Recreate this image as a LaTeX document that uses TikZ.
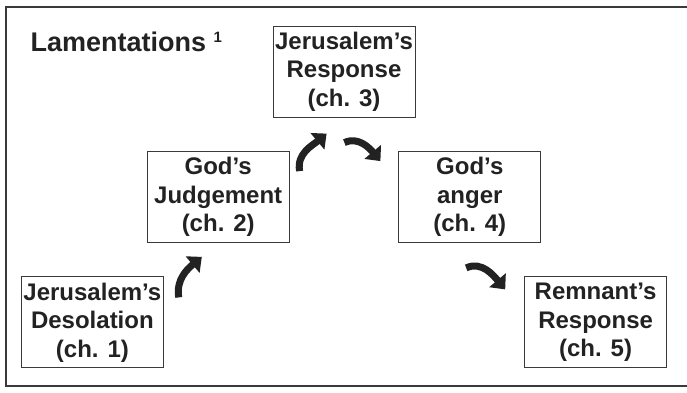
\documentclass[tikz,border=0pt]{standalone}
\usepackage{fontspec}
\setmainfont{Liberation Sans}
\usetikzlibrary{positioning,arrows.meta}

\definecolor{ink}{HTML}{222222}
\definecolor{edge}{HTML}{3A3A3A}

\tikzset{
  chapter/.style={draw=edge, line width=0.8pt, text=ink, align=center,
    minimum width=142pt, minimum height=91pt, inner sep=0pt,
    font=\bfseries\fontsize{24}{28.5}\selectfont},
  turn/.style={ink, line width=7pt,
    -{Triangle[length=12pt,width=21pt]}},
  frame/.style={draw=edge, line width=1.5pt}
}

\begin{document}
\begin{tikzpicture}[x=1pt,y=-1pt]
  \useasboundingbox (0,0) rectangle (687,392);
  \clip (0,0) rectangle (687,392);
  \draw[frame] (6,7) rectangle (700,386);

  \node (title) [anchor=base west, text=ink,
    font=\bfseries\fontsize{27}{32}\selectfont] at (27,51)
    {Lamentations \raisebox{9pt}{\fontsize{15}{15}\selectfont 1}};

  \matrix [column sep=-17pt, row sep=33.5pt] at (344,197) {
    & & \node (b3) [chapter] {Jerusalem's\\Response\\(ch. 3)}; & & \\
    & \node (b2) [chapter] {God's\\Judgement\\(ch. 2)}; & &
    \node (b4) [chapter] {God's\\anger\\(ch. 4)}; & \\
    \node (b1) [chapter] {Jerusalem's\\Desolation\\(ch. 1)}; & & & &
    \node (b5) [chapter] {Remnant's\\Response\\(ch. 5)}; \\
  };

  % ends of the curved arrows
  \coordinate (t1) at ([xshift=15pt,yshift=-21pt]b1.north east);
  \coordinate (h1) at ([xshift=55pt,yshift=-14pt]b2.south west);
  \coordinate (t2) at ([xshift=10pt,yshift=-20pt]b2.north east);
  \coordinate (h2) at ([xshift=54pt,yshift=-16pt]b3.south west);
  \coordinate (t3) at ([xshift=-71pt,yshift=-25pt]b3.south east);
  \coordinate (h3) at ([xshift=-18pt,yshift=-10pt]b4.north west);
  \coordinate (t4) at ([xshift=-75pt,yshift=-25pt]b4.south east);
  \coordinate (h4) at ([xshift=-19pt,yshift=-13pt]b5.north west);

  \draw[turn] (t1) to[out=100,in=220] (h1);
  \draw[turn] (t2) to[out=100,in=220] (h2);
  \draw[turn] (t3) to[out=25,in=130] (h3);
  \draw[turn] (t4) to[out=25,in=130] (h4);
\end{tikzpicture}
\end{document}
